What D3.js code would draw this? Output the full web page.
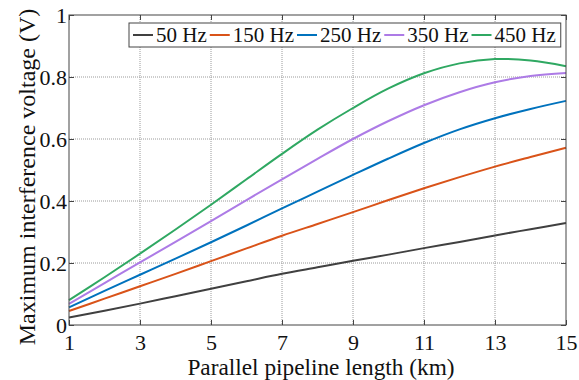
<!DOCTYPE html>
<html>
<head>
<meta charset="utf-8">
<script src="https://cdn.jsdelivr.net/npm/d3@7"></script>
<style>
  body { margin: 0; background: #fff; }
  svg { display: block; }
</style>
</head>
<body>
<svg id="chart" width="579" height="380"></svg>
<script>
// pipeline length (km)
const lengths = [1, 2, 3, 4, 5, 6, 7, 8, 9, 10, 11, 12, 13, 14, 15];
const seriesNames = ['50 Hz', '150 Hz', '250 Hz', '350 Hz', '450 Hz'];
const v50  = [0.024, 0.046, 0.069, 0.093, 0.117, 0.141, 0.165, 0.186, 0.207, 0.227, 0.248, 0.268, 0.289, 0.309, 0.329];
const v150 = [0.045, 0.085, 0.125, 0.165, 0.206, 0.247, 0.288, 0.326, 0.364, 0.403, 0.441, 0.477, 0.511, 0.542, 0.572];
const v250 = [0.057, 0.110, 0.162, 0.214, 0.267, 0.321, 0.376, 0.430, 0.484, 0.537, 0.587, 0.631, 0.667, 0.697, 0.723];
const v350 = [0.068, 0.135, 0.202, 0.268, 0.335, 0.403, 0.470, 0.536, 0.600, 0.658, 0.709, 0.751, 0.783, 0.803, 0.813];
const v450 = [0.080, 0.154, 0.230, 0.308, 0.388, 0.470, 0.552, 0.630, 0.700, 0.763, 0.812, 0.844, 0.858, 0.853, 0.835];
const xTicks = [1, 3, 5, 7, 9, 11, 13, 15];
const yTicks = [0, 0.2, 0.4, 0.6, 0.8, 1];
const colors = ['#404040', '#D95319', '#0072BD', '#AD7BE6', '#2FA862'];

const FONT = "'Liberation Serif', 'Times New Roman', serif";
const svg = d3.select('#chart');
const margin = { top: 15, right: 13, bottom: 55, left: 69 };
const width = 579 - margin.left - margin.right;
const height = 380 - margin.top - margin.bottom;

const x = d3.scaleLinear().domain([1, 15]).range([0, width]);
const y = d3.scaleLinear().domain([0, 1]).range([height, 0]);

const g = svg.append('g').attr('transform', `translate(${margin.left},${margin.top})`);

// grid
g.append('g').selectAll('line').data(xTicks.slice(1, -1)).enter().append('line')
  .attr('x1', d => x(d)).attr('x2', d => x(d)).attr('y1', 0).attr('y2', height)
  .attr('stroke', '#9a9a9a').attr('stroke-width', 1).attr('stroke-dasharray', '1,1');
g.append('g').selectAll('line').data(yTicks.slice(1, -1)).enter().append('line')
  .attr('y1', d => y(d)).attr('y2', d => y(d)).attr('x1', 0).attr('x2', width)
  .attr('stroke', '#9a9a9a').attr('stroke-width', 1).attr('stroke-dasharray', '1,1');

// series
const allSeries = [v50, v150, v250, v350, v450];
const line = d3.line().x((d, i) => x(lengths[i])).y(d => y(d)).curve(d3.curveCatmullRom.alpha(0.5));
g.append('g').selectAll('path').data(allSeries).enter().append('path')
  .attr('d', d => line(d)).attr('fill', 'none')
  .attr('stroke', (d, i) => colors[i]).attr('stroke-width', 2);

// axes with inward ticks on all sides
const axisColor = '#444';
const styleAxis = sel => {
  sel.attr('font-family', FONT);
  sel.select('.domain').remove();
  sel.selectAll('.tick line').attr('stroke', axisColor);
  sel.selectAll('.tick text').attr('fill', '#111').attr('font-size', 22).attr('font-family', FONT);
};
g.append('g').attr('transform', `translate(0,${height})`)
  .call(d3.axisBottom(x).tickValues(xTicks).tickFormat(d3.format('d')).tickSizeInner(-5).tickPadding(9))
  .call(styleAxis);
g.append('g')
  .call(d3.axisLeft(y).tickValues(yTicks).tickFormat(d => d === 0 || d === 1 ? d3.format('d')(d) : d3.format('.1f')(d)).tickSizeInner(-5).tickPadding(2))
  .call(styleAxis);
g.append('g')
  .call(d3.axisTop(x).tickValues(xTicks).tickFormat('').tickSizeInner(-5))
  .call(styleAxis);
g.append('g').attr('transform', `translate(${width},0)`)
  .call(d3.axisRight(y).tickValues(yTicks).tickFormat('').tickSizeInner(-5))
  .call(styleAxis);

g.append('rect').attr('width', width).attr('height', height)
  .attr('fill', 'none').attr('stroke', axisColor).attr('stroke-width', 1);

// axis titles
svg.append('text').attr('x', 321).attr('y', 375)
  .attr('text-anchor', 'middle').attr('font-size', 23.3).attr('font-family', FONT).attr('fill', '#111')
  .text('Parallel pipeline length (km)');
svg.append('text').attr('transform', 'translate(35,177) rotate(-90)')
  .attr('text-anchor', 'middle').attr('font-size', 24).attr('font-family', FONT).attr('fill', '#111')
  .text('Maximum interference voltage (V)');

// legend
const legend = svg.append('g');
const box = legend.append('rect').attr('y', 23).attr('height', 24)
  .attr('fill', '#fff').attr('stroke', axisColor).attr('stroke-width', 1);
let lx = 133;
seriesNames.forEach((name, i) => {
  legend.append('line').attr('x1', lx).attr('x2', lx + 20).attr('y1', 35).attr('y2', 35)
    .attr('stroke', colors[i]).attr('stroke-width', 2);
  const t = legend.append('text').attr('x', lx + 23).attr('y', 42)
    .attr('font-size', 21).attr('font-family', FONT).attr('fill', '#111').text(name);
  lx = lx + 23 + t.node().getComputedTextLength() + 3;
});
box.attr('x', 129).attr('width', lx + 2 - 129);
</script>
</body>
</html>
